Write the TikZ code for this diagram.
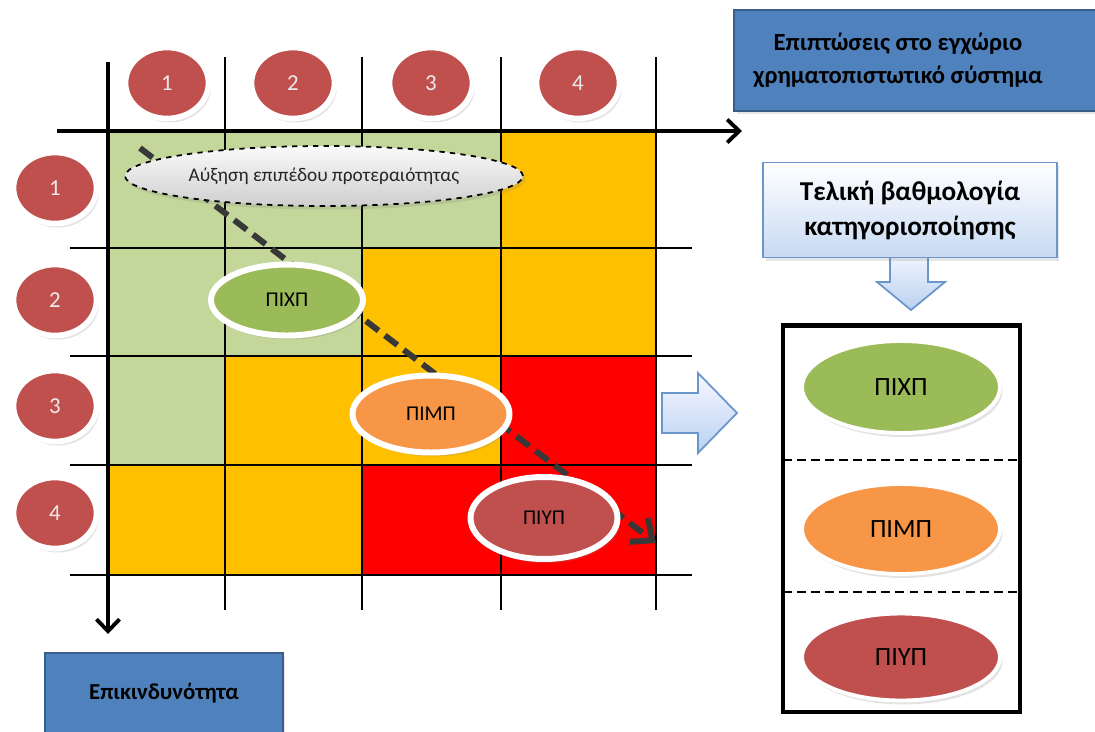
\documentclass[tikz,border=0pt]{standalone}
\usepackage{fontspec}
\setmainfont{Carlito}
\usetikzlibrary{arrows,arrows.meta,shapes.geometric,shadows}
\definecolor{cellgreen}{HTML}{C4D79B}
\definecolor{cellamber}{HTML}{FFC000}
\definecolor{cellred}{HTML}{FF0000}
\definecolor{rankred}{HTML}{C0504D}
\definecolor{lowgreen}{HTML}{9BBB59}
\definecolor{midorange}{HTML}{F79646}
\definecolor{titleblue}{HTML}{4F81BD}
\definecolor{titleedge}{HTML}{385D8A}
\definecolor{paleblue}{HTML}{B9D1F0}
\definecolor{arrowedge}{HTML}{6A96CC}

\begin{document}
\begin{tikzpicture}[x=0.02cm,y=-0.02cm]
\tikzset{rank/.style = {shape=ellipse,draw=white,line width=3.2pt,fill=rankred,
minimum width=1.66cm,minimum height=1.42cm,inner sep=0pt,text=white!92!black,
font=\fontsize{13}{15}\selectfont,
drop shadow={opacity=0.22,shadow xshift=0.5mm,shadow yshift=-0.8mm}}}
\tikzset{level/.style = {shape=ellipse,draw=white,line width=3.4pt,inner sep=0pt,
font=\fontsize{12}{14}\selectfont,
drop shadow={opacity=0.22,shadow xshift=0.5mm,shadow yshift=-0.8mm}}}
\tikzset{titlebox/.style = {rectangle,draw=titleedge,line width=1.6pt,fill=titleblue,
align=center,inner sep=0pt,font=\bfseries\fontsize{13}{18}\selectfont,
drop shadow={opacity=0.2,shadow xshift=0.5mm,shadow yshift=-0.7mm}}}
\tikzset{axis/.style = {-{Straight Barb[length=2.4mm,width=4.6mm]},line width=2.2pt}}
\tikzset{trend/.style = {-{Straight Barb[length=3.4mm,width=6mm]},line width=3.4pt,
draw=black!78,dash pattern=on 9pt off 4.5pt}}
\tikzset{block/.style = {draw=arrowedge,line width=1pt,top color=blue!3!white,bottom color=paleblue}}
\useasboundingbox (0,0) rectangle (1095,731);
\clip (0,0) rectangle (1095,731);
% cells
\foreach \xa/\xb/\ya/\yb/\c in {108/225/131/248/cellgreen,225/362/131/248/cellgreen,
  362/501/131/248/cellgreen,501/656/131/248/cellamber,
  108/225/248/356/cellgreen,225/362/248/356/cellgreen,
  362/501/248/356/cellamber,501/656/248/356/cellamber,
  108/225/356/465/cellgreen,225/362/356/465/cellamber,
  362/501/356/465/cellamber,501/656/356/465/cellred,
  108/225/465/575/cellamber,225/362/465/575/cellamber,
  362/501/465/575/cellred,501/656/465/575/cellred}
  \fill[\c] (\xa,\ya) rectangle (\xb,\yb);
\foreach \x in {225,362,501,656} \draw[line width=0.7pt] (\x,57) -- (\x,610);
\foreach \y in {248,356,465,575} \draw[line width=0.7pt] (70,\y) -- (692,\y);
% axes
\coordinate (xs) at (57,131);
\coordinate (xe) at (742,131);
\coordinate (ys) at (108,62);
\coordinate (ye) at (108,634);
\draw[axis] (xs) -- (xe);
\draw[axis] (ys) -- (ye);
\coordinate (ts) at (140,148);
\coordinate (te) at (656,543);
\draw[trend] (ts) -- (te);
% ellipses
\node[shape=ellipse,draw=black,dashed,line width=1pt,top color=gray!4,bottom color=gray!38,
  minimum width=7.96cm,minimum height=1.2cm,inner sep=0pt,text=black!85,
  font=\fontsize{11}{13}\selectfont,
  drop shadow={opacity=0.2,shadow xshift=0.5mm,shadow yshift=-0.7mm}] (prio) at (324,176)
  {Αύξηση επιπέδου προτεραιότητας};
\node[level,fill=lowgreen,minimum width=3.04cm,minimum height=1.42cm] (lo) at (287,300) {ΠΙΧΠ};
\node[level,fill=midorange,minimum width=3.14cm,minimum height=1.54cm] (mid) at (431,414) {ΠΙΜΠ};
\node[level,fill=rankred,minimum width=2.94cm,minimum height=1.64cm] (hi) at (544,518) {ΠΙΥΠ};
\foreach \n/\x in {1/167,2/293,3/431,4/578} \node[rank] (c\n) at (\x,83) {\n};
\foreach \n/\y in {1/188,2/300,3/406,4/513} \node[rank] (r\n) at (55,\y) {\n};
% titles
\node[titlebox,minimum width=7.4cm,minimum height=2.02cm,font=\bfseries\fontsize{14}{19}\selectfont]
  (impact) at (919,60.5)
  {Επιπτώσεις στο εγχώριο\hspace*{0.84cm}\\χρηματοπιστωτικό σύστημα\hspace*{0.84cm}};
\node[titlebox,minimum width=4.76cm,minimum height=1.6cm] (risk) at (164,693) {Επικινδυνότητα};
\draw[block] (662,393) -- (698,393) -- (698,373) -- (737,413) -- (698,453) -- (698,433) -- (662,433) -- cycle;
\draw[block] (890,250) -- (928,250) -- (928,282) -- (945,282) -- (911,310) -- (877,282) -- (890,282) -- cycle;
\node[rectangle,draw=arrowedge,line width=1pt,top color=white,bottom color=paleblue!80,
  minimum width=5.88cm,minimum height=1.9cm,align=center,inner sep=0pt,
  font=\bfseries\fontsize{15.5}{20}\selectfont,
  drop shadow={opacity=0.2,shadow xshift=0.5mm,shadow yshift=-0.7mm}] (final) at (910,210)
  {Τελική βαθμολογία\\κατηγοριοποίησης};
% panel
\node[draw,line width=2.8pt,minimum width=4.74cm,minimum height=7.74cm] (panel) at (901.5,518.5) {};
\draw[line width=1.6pt,dash pattern=on 5pt off 3pt] (783,460) -- (1020,460);
\draw[line width=1.6pt,dash pattern=on 5pt off 3pt] (783,592) -- (1020,592);
\node[level,fill=lowgreen,line width=2.2pt,minimum width=3.96cm,minimum height=1.84cm,
  font=\fontsize{15}{18}\selectfont] (plo) at (901,387) {ΠΙΧΠ};
\node[level,fill=midorange,line width=2.2pt,minimum width=3.96cm,minimum height=1.8cm,
  font=\fontsize{15}{18}\selectfont] (pmid) at (901,529) {ΠΙΜΠ};
\node[level,fill=rankred,line width=2.2pt,minimum width=3.96cm,minimum height=1.74cm,
  font=\fontsize{15}{18}\selectfont] (phi) at (901,657) {ΠΙΥΠ};
\end{tikzpicture}
\end{document}
